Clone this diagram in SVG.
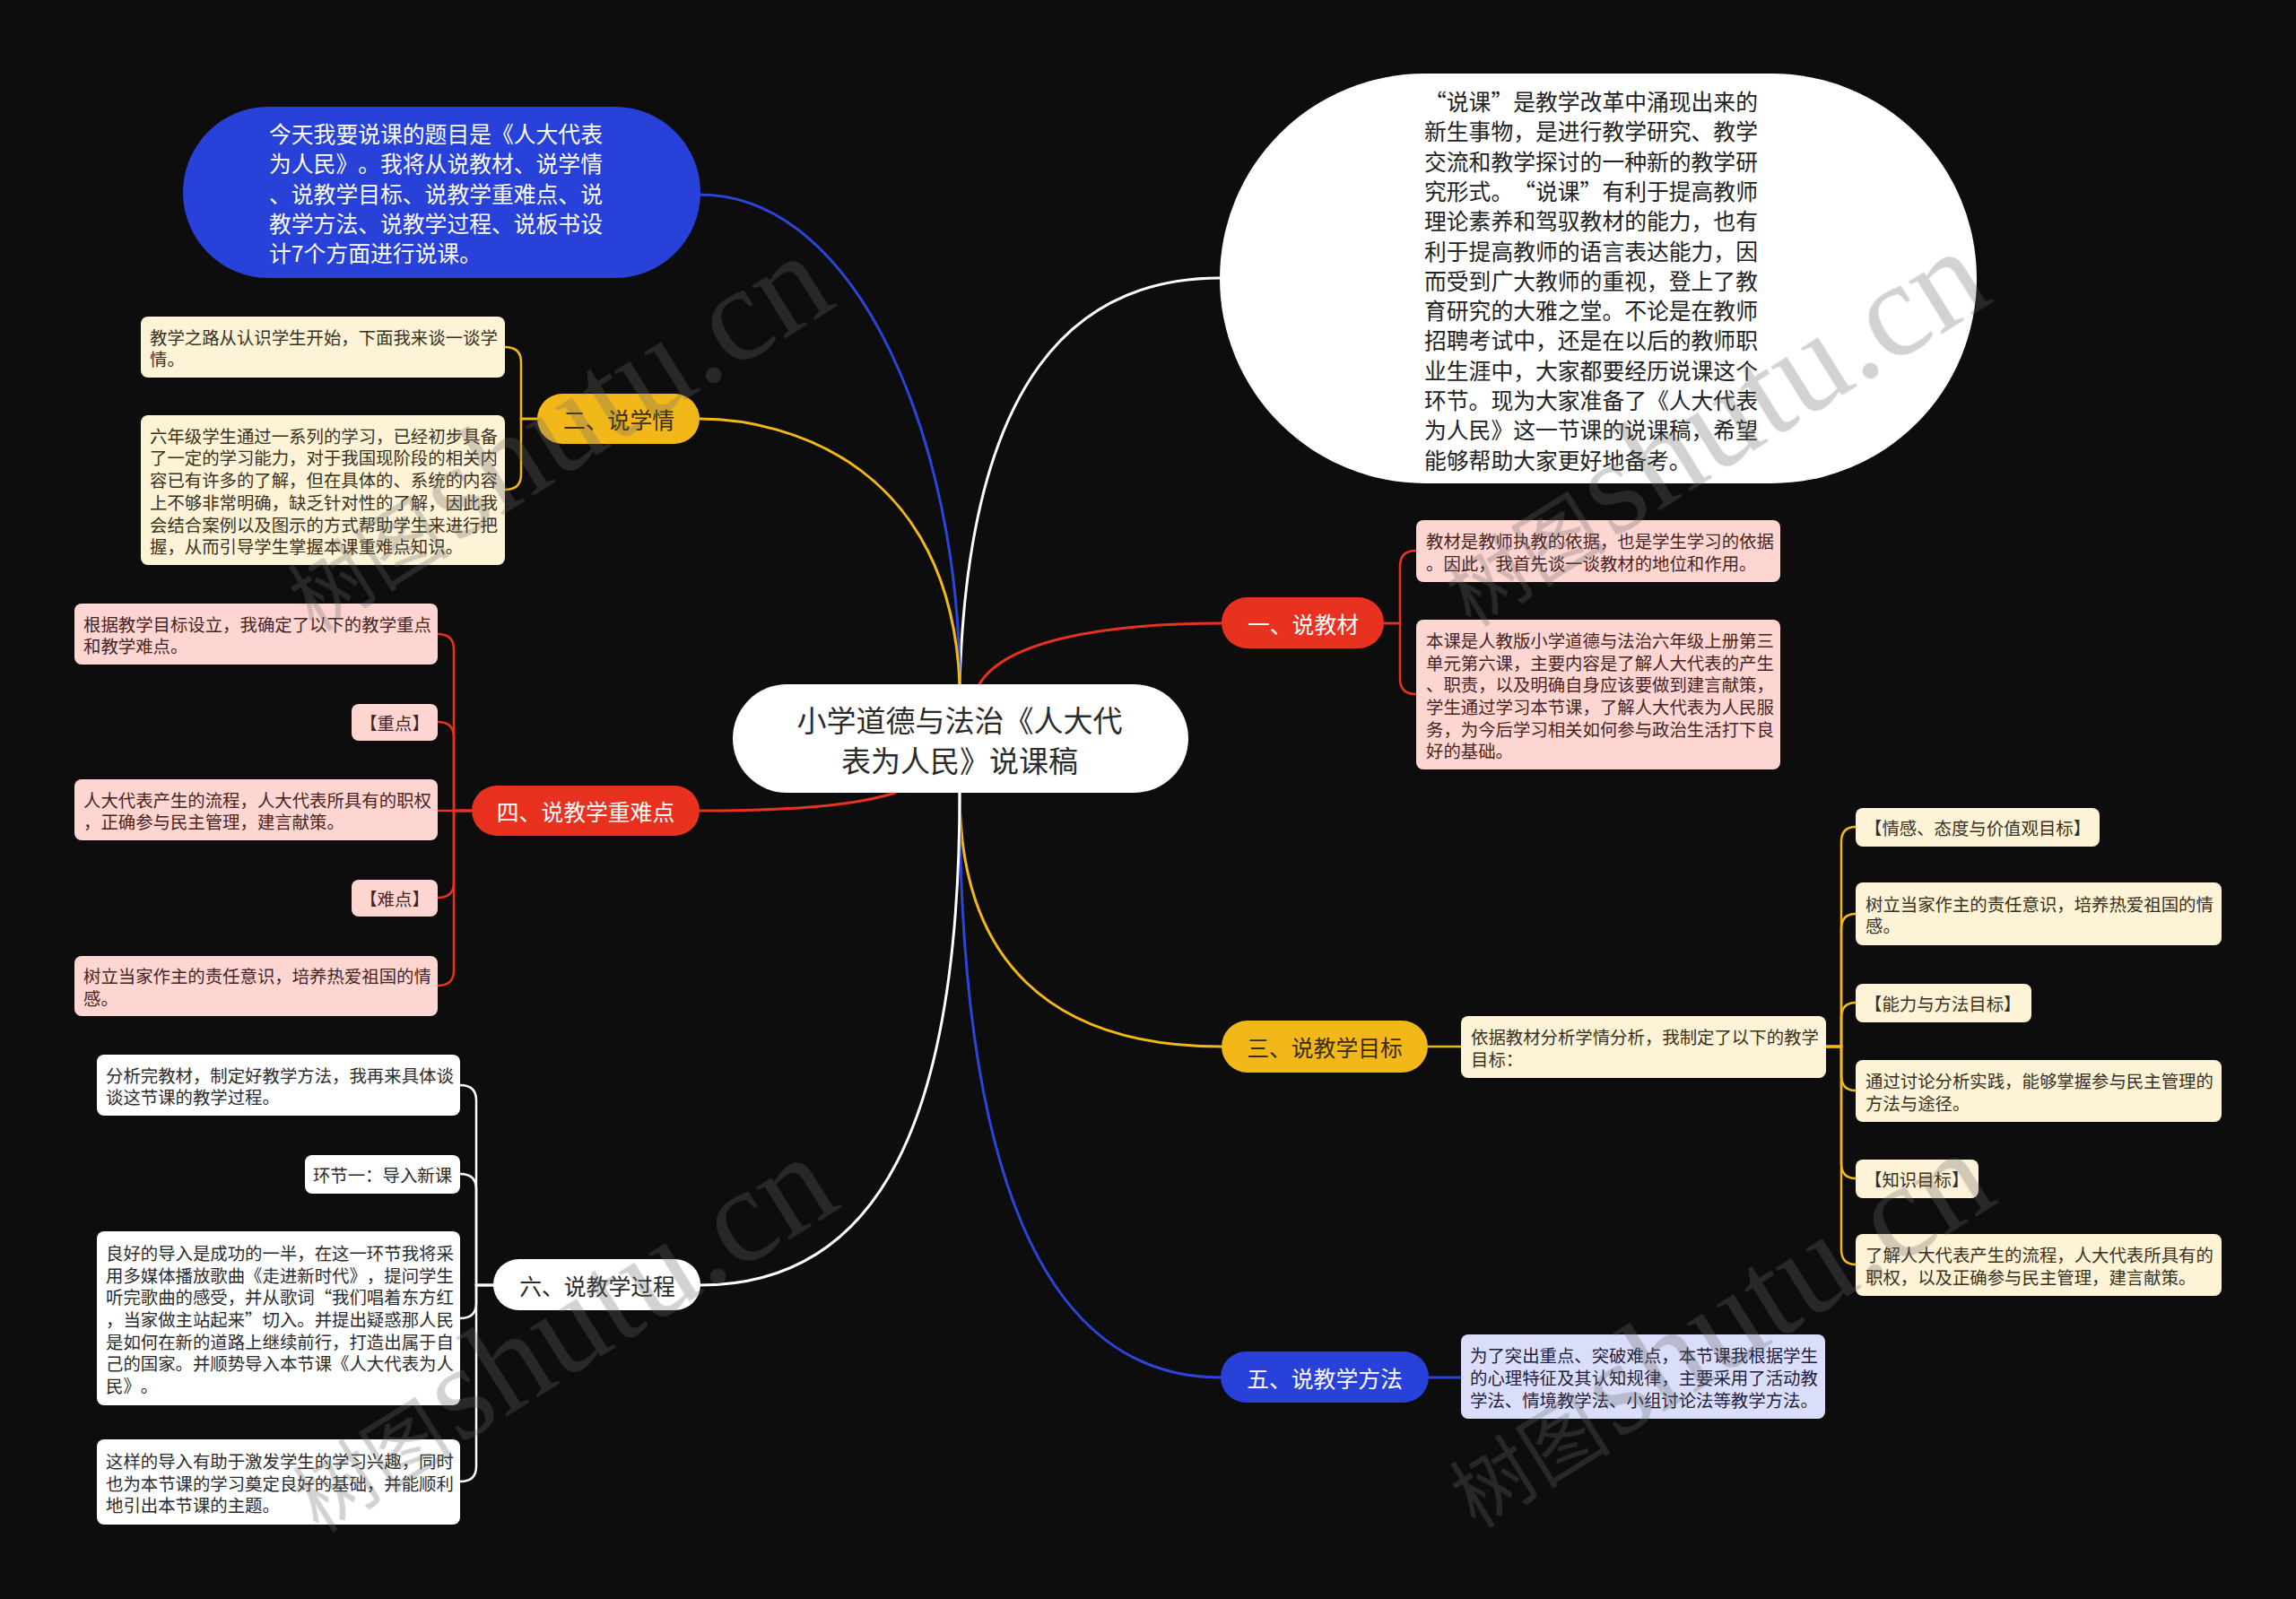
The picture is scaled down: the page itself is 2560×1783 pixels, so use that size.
<svg xmlns="http://www.w3.org/2000/svg" width="2560" height="1783" viewBox="0 0 2560 1783">
<style>
text{font-family:"Noto Sans CJK SC","Liberation Sans",sans-serif;dominant-baseline:central;text-spacing-trim:space-all;font-feature-settings:"halt" 0,"chws" 0}
.s{font-size:19.4px}
.m{font-size:24.8px}
.c{font-size:33px;fill:#2b2b2b}
.cream{fill:#fef3d6}
.pink{fill:#fdd6d2}
.lav{fill:#dadefa}
.wh{fill:#ffffff}
.tc{fill:#3a3020}
.tp{fill:#4a1f1f}
.tl{fill:#1f2040}
.tw{fill:#2b2b2b}
.mid{text-anchor:middle}
.wm{fill:#6a6a6a;opacity:0.3}
</style>
<rect x="0" y="0" width="2560" height="1783" fill="#0d0d0d"/>

<g id="connectors" fill="none" stroke-linecap="round">
 <g stroke-width="3">
  <path d="M1070 763 C1080 420 1200 310 1360 310" stroke="#ffffff"/>
  <path d="M780 217 C960 217 1070 500 1070 763" stroke="#2b45d8"/>
  <path d="M780 467 C880 467 1060 520 1070 763" stroke="#f2b81a"/>
  <path d="M1092 763 C1120 715 1230 695 1362 695" stroke="#e8321f"/>
  <path d="M998 884 C960 896 900 904 780 904" stroke="#e8321f"/>
  <path d="M1070 884 C1070 1070 1170 1167 1362 1167" stroke="#f2b81a"/>
  <path d="M1070 884 C1070 1300 1160 1536 1361 1536" stroke="#2b45d8"/>
  <path d="M1070 884 C1070 1250 980 1433 781 1433" stroke="#ffffff"/>
 </g>
 <g stroke-width="2.5" stroke="#f2b81a">
  <path d="M599 467 H581 V404 Q581 387 563 387"/>
  <path d="M599 467 H581 V529 Q581 546 563 546"/>
 </g>
 <g stroke-width="2.5" stroke="#e8321f">
  <path d="M526 904 H506 V724 Q506 707 488 707"/>
  <path d="M526 904 H506 V822 Q506 805 488 805"/>
  <path d="M526 904 H488"/>
  <path d="M526 904 H506 V984 Q506 1001 488 1001"/>
  <path d="M526 904 H506 V1082 Q506 1099 488 1099"/>
  <path d="M1543 695 H1561 V631 Q1561 614 1579 614"/>
  <path d="M1543 695 H1561 V757 Q1561 774 1579 774"/>
 </g>
 <g stroke-width="2.5" stroke="#ffffff">
  <path d="M550 1433 H531 V1227 Q531 1210 513 1210"/>
  <path d="M550 1433 H531 V1326 Q531 1309 513 1309"/>
  <path d="M550 1433 H531 V1453 Q531 1470 513 1470"/>
  <path d="M550 1433 H531 V1635 Q531 1652 513 1652"/>
 </g>
 <g stroke-width="2.5" stroke="#f2b81a">
  <path d="M1592 1167 H1629"/>
  <path d="M2036 1167 H2053 V939 Q2053 922 2069 922"/>
  <path d="M2036 1167 H2053 V1036 Q2053 1019 2069 1019"/>
  <path d="M2036 1167 H2053 V1135 Q2053 1118 2069 1118"/>
  <path d="M2036 1167 H2053 V1199 Q2053 1216 2069 1216"/>
  <path d="M2036 1167 H2053 V1297 Q2053 1314 2069 1314"/>
  <path d="M2036 1167 H2053 V1393 Q2053 1410 2069 1410"/>
 </g>
 <path d="M1593 1536 H1629" stroke="#2b45d8" stroke-width="3"/>
</g>

<g id="center">
 <rect x="817" y="763" width="508" height="121" rx="60.5" fill="#ffffff"/>
 <text class="c mid"><tspan x="1070" y="802">小学道德与法治《人大代</tspan><tspan x="1070" y="847">表为人民》说课稿</tspan></text>
</g>

<g id="intro">
 <rect x="204" y="119" width="577" height="191" rx="95.5" fill="#2841d8"/>
 <text class="m" fill="#ffffff"><tspan x="300" y="148">今天我要说课的题目是《人大代表</tspan><tspan x="300" y="181.3">为人民》。我将从说教材、说学情</tspan><tspan x="300" y="214.6">、说教学目标、说教学重难点、说</tspan><tspan x="300" y="247.9">教学方法、说教学过程、说板书设</tspan><tspan x="300" y="281.2">计7个方面进行说课。</tspan></text>
</g>

<g id="preface">
 <rect x="1360" y="82" width="844" height="457" rx="228.5" fill="#ffffff"/>
 <text class="m" fill="#222222">
  <tspan x="1588" y="112">“说课”是教学改革中涌现出来的</tspan>
  <tspan x="1588" y="145.3">新生事物，是进行教学研究、教学</tspan>
  <tspan x="1588" y="178.6">交流和教学探讨的一种新的教学研</tspan>
  <tspan x="1588" y="211.9">究形式。“说课”有利于提高教师</tspan>
  <tspan x="1588" y="245.2">理论素养和驾驭教材的能力，也有</tspan>
  <tspan x="1588" y="278.5">利于提高教师的语言表达能力，因</tspan>
  <tspan x="1588" y="311.8">而受到广大教师的重视，登上了教</tspan>
  <tspan x="1588" y="345.1">育研究的大雅之堂。不论是在教师</tspan>
  <tspan x="1588" y="378.4">招聘考试中，还是在以后的教师职</tspan>
  <tspan x="1588" y="411.7">业生涯中，大家都要经历说课这个</tspan>
  <tspan x="1588" y="445">环节。现为大家准备了《人大代表</tspan>
  <tspan x="1588" y="478.3">为人民》这一节课的说课稿，希望</tspan>
  <tspan x="1588" y="511.6">能够帮助大家更好地备考。</tspan>
 </text>
</g>

<g id="b1">
 <rect x="1362" y="666" width="181" height="57" rx="28.5" fill="#e8321f"/>
 <text class="m mid" x="1453" y="695" fill="#ffffff">一、说教材</text>
</g>
<g id="b1-1">
 <rect class="pink" x="1579" y="580" width="406" height="69" rx="8"/>
 <text class="s tp"><tspan x="1590" y="602.2">教材是教师执教的依据，也是学生学习的依据</tspan><tspan x="1590" y="626.9">。因此，我首先谈一谈教材的地位和作用。</tspan></text>
</g>
<g id="b1-2">
 <rect class="pink" x="1579" y="691" width="406" height="167" rx="8"/>
 <text class="s tp"><tspan x="1590" y="712.8">本课是人教版小学道德与法治六年级上册第三</tspan><tspan x="1590" y="737.5">单元第六课，主要内容是了解人大代表的产生</tspan><tspan x="1590" y="762.2">、职责，以及明确自身应该要做到建言献策，</tspan><tspan x="1590" y="786.9">学生通过学习本节课，了解人大代表为人民服</tspan><tspan x="1590" y="811.6">务，为今后学习相关如何参与政治生活打下良</tspan><tspan x="1590" y="836.3">好的基础。</tspan></text>
</g>

<g id="b2">
 <rect x="599" y="439" width="181" height="56" rx="28" fill="#f2b81a"/>
 <text class="m mid" x="690" y="467" fill="#3a2c0a">二、说学情</text>
</g>
<g id="b2-1">
 <rect class="cream" x="157" y="353" width="406" height="68" rx="8"/>
 <text class="s tc"><tspan x="167" y="374.6">教学之路从认识学生开始，下面我来谈一谈学</tspan><tspan x="167" y="399.3">情。</tspan></text>
</g>
<g id="b2-2">
 <rect class="cream" x="157" y="463" width="406" height="167" rx="8"/>
 <text class="s tc"><tspan x="167" y="484.7">六年级学生通过一系列的学习，已经初步具备</tspan><tspan x="167" y="509.4">了一定的学习能力，对于我国现阶段的相关内</tspan><tspan x="167" y="534.1">容已有许多的了解，但在具体的、系统的内容</tspan><tspan x="167" y="558.8">上不够非常明确，缺乏针对性的了解，因此我</tspan><tspan x="167" y="583.5">会结合案例以及图示的方式帮助学生来进行把</tspan><tspan x="167" y="608.2">握，从而引导学生掌握本课重难点知识。</tspan></text>
</g>

<g id="b3">
 <rect x="1362" y="1138" width="230" height="58" rx="29" fill="#f2b81a"/>
 <text class="m mid" x="1477" y="1167" fill="#3a2c0a">三、说教学目标</text>
</g>
<g id="b3-0">
 <rect class="cream" x="1629" y="1133" width="407" height="69" rx="8"/>
 <text class="s tc"><tspan x="1640" y="1155.2">依据教材分析学情分析，我制定了以下的教学</tspan><tspan x="1640" y="1179.9">目标：</tspan></text>
</g>
<g id="b3-1">
 <rect class="cream" x="2069" y="901" width="272" height="43" rx="8"/>
 <text class="s tc" x="2079" y="922.5">【情感、态度与价值观目标】</text>
</g>
<g id="b3-2">
 <rect class="cream" x="2069" y="984" width="408" height="70" rx="8"/>
 <text class="s tc"><tspan x="2080" y="1006.7">树立当家作主的责任意识，培养热爱祖国的情</tspan><tspan x="2080" y="1031.4">感。</tspan></text>
</g>
<g id="b3-3">
 <rect class="cream" x="2069" y="1097" width="196" height="43" rx="8"/>
 <text class="s tc" x="2079" y="1118.5">【能力与方法目标】</text>
</g>
<g id="b3-4">
 <rect class="cream" x="2069" y="1182" width="408" height="69" rx="8"/>
 <text class="s tc"><tspan x="2080" y="1204.2">通过讨论分析实践，能够掌握参与民主管理的</tspan><tspan x="2080" y="1228.9">方法与途径。</tspan></text>
</g>
<g id="b3-5">
 <rect class="cream" x="2069" y="1293" width="137" height="43" rx="8"/>
 <text class="s tc" x="2079" y="1314.5">【知识目标】</text>
</g>
<g id="b3-6">
 <rect class="cream" x="2069" y="1376" width="408" height="69" rx="8"/>
 <text class="s tc"><tspan x="2080" y="1398.2">了解人大代表产生的流程，人大代表所具有的</tspan><tspan x="2080" y="1422.9">职权，以及正确参与民主管理，建言献策。</tspan></text>
</g>

<g id="b4">
 <rect x="526" y="876" width="254" height="56" rx="28" fill="#e8321f"/>
 <text class="m mid" x="653" y="904" fill="#ffffff">四、说教学重难点</text>
</g>
<g id="b4-1">
 <rect class="pink" x="83" y="673" width="405" height="68" rx="8"/>
 <text class="s tp"><tspan x="93" y="694.6">根据教学目标设立，我确定了以下的教学重点</tspan><tspan x="93" y="719.3">和教学难点。</tspan></text>
</g>
<g id="b4-2">
 <rect class="pink" x="392" y="785" width="96" height="41" rx="8"/>
 <text class="s tp mid" x="440" y="805.5">【重点】</text>
</g>
<g id="b4-3">
 <rect class="pink" x="83" y="869" width="405" height="68" rx="8"/>
 <text class="s tp"><tspan x="93" y="890.6">人大代表产生的流程，人大代表所具有的职权</tspan><tspan x="93" y="915.3">，正确参与民主管理，建言献策。</tspan></text>
</g>
<g id="b4-4">
 <rect class="pink" x="392" y="981" width="96" height="41" rx="8"/>
 <text class="s tp mid" x="440" y="1001.5">【难点】</text>
</g>
<g id="b4-5">
 <rect class="pink" x="83" y="1066" width="405" height="67" rx="8"/>
 <text class="s tp"><tspan x="93" y="1087.2">树立当家作主的责任意识，培养热爱祖国的情</tspan><tspan x="93" y="1111.9">感。</tspan></text>
</g>

<g id="b5">
 <rect x="1361" y="1507" width="232" height="57" rx="28.5" fill="#2841d8"/>
 <text class="m mid" x="1477" y="1536" fill="#ffffff">五、说教学方法</text>
</g>
<g id="b5-1">
 <rect class="lav" x="1629" y="1488" width="406" height="94" rx="8"/>
 <text class="s tl"><tspan x="1639" y="1510.3">为了突出重点、突破难点，本节课我根据学生</tspan><tspan x="1639" y="1535">的心理特征及其认知规律，主要采用了活动教</tspan><tspan x="1639" y="1559.7">学法、情境教学法、小组讨论法等教学方法。</tspan></text>
</g>

<g id="b6">
 <rect x="550" y="1404" width="231" height="57" rx="28.5" fill="#ffffff"/>
 <text class="m mid" x="666" y="1433" fill="#2b2b2b">六、说教学过程</text>
</g>
<g id="b6-1">
 <rect class="wh" x="108" y="1176" width="405" height="68" rx="8"/>
 <text class="s tw"><tspan x="118" y="1197.6">分析完教材，制定好教学方法，我再来具体谈</tspan><tspan x="118" y="1222.3">谈这节课的教学过程。</tspan></text>
</g>
<g id="b6-2">
 <rect class="wh" x="340" y="1288" width="173" height="43" rx="8"/>
 <text class="s tw mid" x="426.5" y="1309.5">环节一：导入新课</text>
</g>
<g id="b6-3">
 <rect class="wh" x="108" y="1373" width="405" height="194" rx="8"/>
 <text class="s tw"><tspan x="118" y="1395.9">良好的导入是成功的一半，在这一环节我将采</tspan><tspan x="118" y="1420.6">用多媒体播放歌曲《走进新时代》，提问学生</tspan><tspan x="118" y="1445.3">听完歌曲的感受，并从歌词“我们唱着东方红</tspan><tspan x="118" y="1470">，当家做主站起来”切入。并提出疑惑那人民</tspan><tspan x="118" y="1494.7">是如何在新的道路上继续前行，打造出属于自</tspan><tspan x="118" y="1519.4">己的国家。并顺势导入本节课《人大代表为人</tspan><tspan x="118" y="1544.1">民》。</tspan></text>
</g>
<g id="b6-4">
 <rect class="wh" x="108" y="1605" width="405" height="95" rx="8"/>
 <text class="s tw"><tspan x="118" y="1627.8">这样的导入有助于激发学生的学习兴趣，同时</tspan><tspan x="118" y="1652.5">也为本节课的学习奠定良好的基础，并能顺利</tspan><tspan x="118" y="1677.2">地引出本节课的主题。</tspan></text>
</g>

<g id="watermarks" class="wm">
 <text transform="translate(350 705) rotate(-32)" style="dominant-baseline:alphabetic"><tspan font-size="90">树图</tspan><tspan font-family="Liberation Serif, serif" font-size="150" dx="6">shutu.cn</tspan></text>
 <text transform="translate(1640 700) rotate(-32)" style="dominant-baseline:alphabetic"><tspan font-size="90">树图</tspan><tspan font-family="Liberation Serif, serif" font-size="150" dx="6">shutu.cn</tspan></text>
 <text transform="translate(355 1710) rotate(-32)" style="dominant-baseline:alphabetic"><tspan font-size="90">树图</tspan><tspan font-family="Liberation Serif, serif" font-size="150" dx="6">shutu.cn</tspan></text>
 <text transform="translate(1645 1705) rotate(-32)" style="dominant-baseline:alphabetic"><tspan font-size="90">树图</tspan><tspan font-family="Liberation Serif, serif" font-size="150" dx="6">shutu.cn</tspan></text>
</g>
</svg>
